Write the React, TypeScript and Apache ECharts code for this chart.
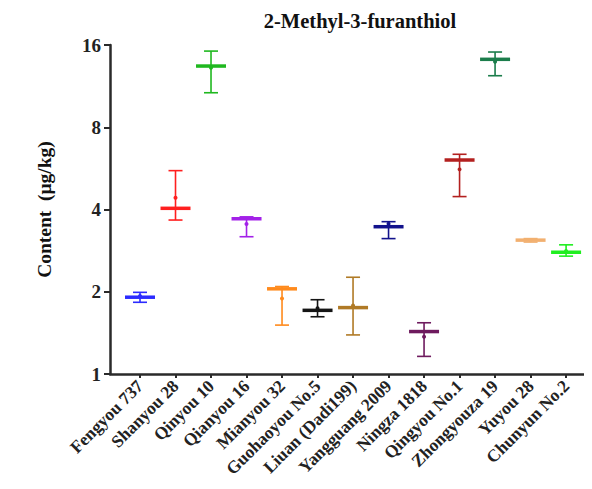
import React, { useEffect, useRef } from "react";
import * as echarts from "echarts";

const categories = [
  "Fengyou 737", "Shanyou 28", "Qinyou 10", "Qianyou 16", "Mianyou 32",
  "Guohaoyou No.5", "Liuan (Dadi199)", "Yangguang 2009", "Ningza 1818",
  "Qingyou No.1", "Zhongyouza 19", "Yuyou 28", "Chunyun No.2",
];
const means = [1.91, 4.04, 13.4, 3.70, 2.05, 1.71, 1.75, 3.46, 1.43, 6.07, 14.18, 3.09, 2.79];
const upper = [1.99, 5.55, 15.2, 3.76, 2.09, 1.87, 2.26, 3.61, 1.54, 6.37, 15.08, 3.13, 2.97];
const lower = [1.83, 3.66, 10.7, 3.18, 1.51, 1.62, 1.39, 3.13, 1.16, 4.46, 12.35, 3.04, 2.70];
const dots = [1.93, 4.42, 13.2, 3.54, 1.89, 1.74, 1.78, 3.55, 1.37, 5.61, 13.9, 3.09, 2.82];
const colors = [
  "#2b2bff", "#ff1f1f", "#1fb81f", "#a321e8", "#ff8a1c",
  "#151515", "#b07a26", "#12128c", "#6e1a5e",
  "#b3201f", "#1b7d4b", "#f2b070", "#1fee1f",
];
const yTicks = [1, 2, 4, 8, 16];

const FONT = "'Liberation Serif', 'Times New Roman', serif";

export default function App() {
  const ref = useRef<HTMLDivElement>(null);
  useEffect(() => {
    const chart = echarts.init(ref.current!, null, { renderer: "svg" });
    const data = categories.map((c, i) => [i, means[i], upper[i], lower[i], dots[i]]);
    chart.setOption({
      animation: false,
      title: {
        text: "2-Methyl-3-furanthiol",
        left: 355,
        top: 5,
        textAlign: "center",
        textStyle: { fontFamily: FONT, fontWeight: "bold", fontSize: 20.5, color: "#111" },
      },
      grid: { left: 110, right: 0, top: 45, bottom: 115, containLabel: false },
      xAxis: {
        type: "value",
        min: -0.845,
        max: 12.73,
        splitLine: { show: false },
        axisLine: { show: true, onZero: false, lineStyle: { color: "#2a2a2a", width: 2.5 } },
        axisTick: {
          show: true,
          customValues: categories.map((_, i) => i),
          length: 4,
          lineStyle: { color: "#2a2a2a", width: 2 },
        },
        axisLabel: {
          customValues: categories.map((_, i) => i),
          formatter: (v: number) => categories[Math.round(v)] ?? "",
          rotate: 45,
          margin: 9,
          fontFamily: FONT,
          fontWeight: "bold",
          fontSize: 17.5,
          color: "#222",
        },
      },
      yAxis: {
        type: "log",
        logBase: 2,
        min: 1,
        max: 16,
        name: "Content  (μg/kg)",
        nameLocation: "middle",
        nameGap: 56,
        nameRotate: 90,
        nameTextStyle: { fontFamily: FONT, fontWeight: "bold", fontSize: 19.5, color: "#111" },
        splitLine: { show: false },
        axisLine: { show: true, onZero: false, lineStyle: { color: "#2a2a2a", width: 2.5 } },
        axisTick: { show: true, length: 6, customValues: yTicks, lineStyle: { color: "#2a2a2a", width: 2 } },
        minorTick: { show: false },
        axisLabel: {
          customValues: yTicks,
          margin: 9,
          fontFamily: FONT,
          fontWeight: "bold",
          fontSize: 19,
          color: "#222",
        },
      },
      series: [
        {
          type: "custom",
          data,
          encode: { x: 0, y: [1, 2, 3] },
          renderItem: (params: any, api: any) => {
            const i = api.value(0);
            const pm = api.coord([i, api.value(1)]);
            const pu = api.coord([i, api.value(2)]);
            const pl = api.coord([i, api.value(3)]);
            const pd = api.coord([i, api.value(4)]);
            const color = colors[params.dataIndex];
            const x = pm[0];
            const cap = 7;
            const half = 15;
            return {
              type: "group",
              children: [
                { type: "line", shape: { x1: x, y1: pu[1], x2: x, y2: pl[1] }, style: { stroke: color, lineWidth: 1.6 } },
                { type: "line", shape: { x1: x - cap, y1: pu[1], x2: x + cap, y2: pu[1] }, style: { stroke: color, lineWidth: 1.6 } },
                { type: "line", shape: { x1: x - cap, y1: pl[1], x2: x + cap, y2: pl[1] }, style: { stroke: color, lineWidth: 1.6 } },
                { type: "line", shape: { x1: x - half, y1: pm[1], x2: x + half, y2: pm[1] }, style: { stroke: color, lineWidth: 3.5 } },
                { type: "circle", shape: { cx: x, cy: pd[1], r: 2 }, style: { fill: color } },
              ],
            };
          },
        },
      ],
    });
    return () => chart.dispose();
  }, []);
  return <div ref={ref} style={{ width: 592, height: 489, margin: -8 }} />;
}
